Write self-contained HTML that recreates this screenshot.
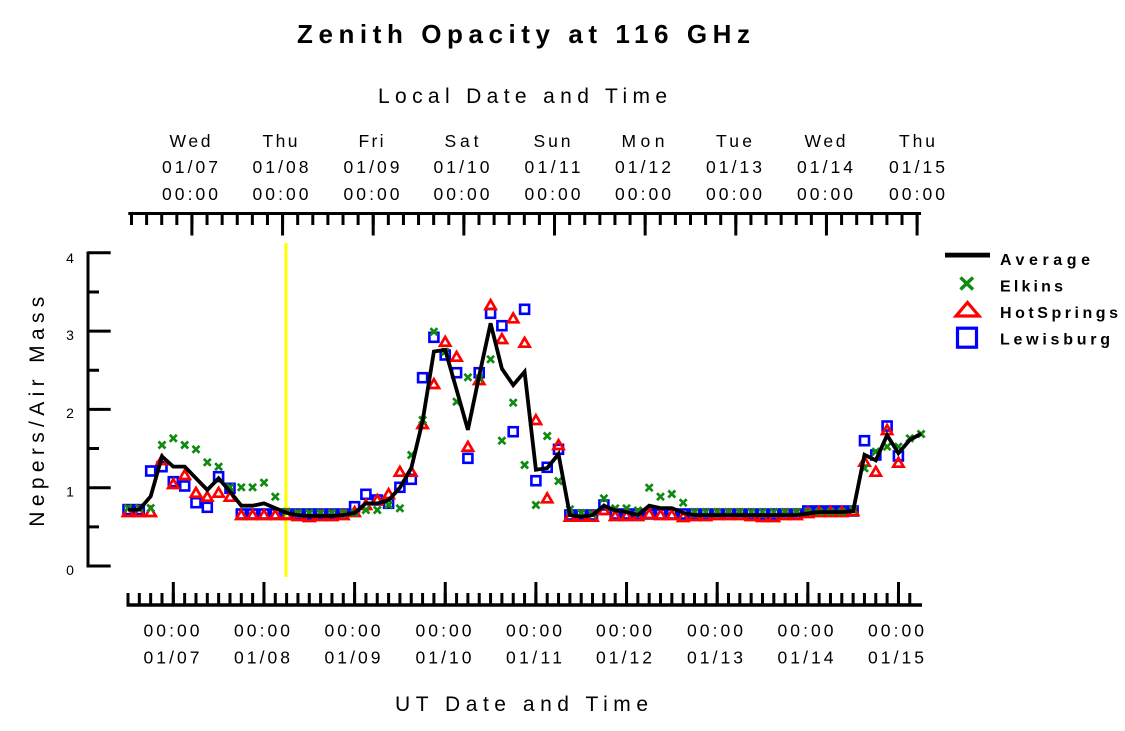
<!DOCTYPE html>
<html>
<head>
<meta charset="utf-8">
<style>
html,body{margin:0;padding:0;background:#fff;}
svg{display:block;}
text{font-family:"Liberation Sans",Arial,sans-serif;fill:#000;}
</style>
</head>
<body>
<svg xmlns="http://www.w3.org/2000/svg" width="1125" height="731" viewBox="0 0 1125 731">
<defs>
<marker id="mx" markerUnits="userSpaceOnUse" markerWidth="1" markerHeight="1" refX="0" refY="0" style="overflow:visible">
<path d="M-3.5,-3.5 L3.5,3.5 M-3.5,3.5 L3.5,-3.5" stroke="#108a10" stroke-width="2.7" fill="none"/>
</marker>
<marker id="mt" markerUnits="userSpaceOnUse" markerWidth="1" markerHeight="1" refX="0" refY="0" style="overflow:visible">
<path d="M0,-4.8 L5.1,4.0 L-5.1,4.0 Z" stroke="#ff0000" stroke-width="2.7" fill="none"/>
</marker>
<marker id="ms" markerUnits="userSpaceOnUse" markerWidth="1" markerHeight="1" refX="0" refY="0" style="overflow:visible">
<rect x="-4.5" y="-4.5" width="9" height="9" stroke="#0000ff" stroke-width="2.6" fill="none"/>
</marker>
</defs>
<rect width="1125" height="731" fill="#fff"/>

<!-- Title -->
<text x="297" y="43" font-size="26" font-weight="bold" textLength="453" lengthAdjust="spacing">Zenith Opacity at 116 GHz</text>

<!-- Top axis title -->
<text x="378" y="103" font-size="21" textLength="289" lengthAdjust="spacing">Local Date and Time</text>

<!-- Top labels -->
<g font-size="17.5" text-anchor="middle">
<text x="190" y="147" textLength="41" lengthAdjust="spacing">Wed</text>
<text x="280" y="147" textLength="35" lengthAdjust="spacing">Thu</text>
<text x="371" y="147" textLength="25" lengthAdjust="spacing">Fri</text>
<text x="461.5" y="147" textLength="34" lengthAdjust="spacing">Sat</text>
<text x="552" y="147" textLength="37" lengthAdjust="spacing">Sun</text>
<text x="643" y="147" textLength="43" lengthAdjust="spacing">Mon</text>
<text x="734" y="147" textLength="36" lengthAdjust="spacing">Tue</text>
<text x="825" y="147" textLength="41" lengthAdjust="spacing">Wed</text>
<text x="917" y="147" textLength="36" lengthAdjust="spacing">Thu</text>

<text x="190" y="173" textLength="56" lengthAdjust="spacing">01/07</text>
<text x="280.5" y="173" textLength="56" lengthAdjust="spacing">01/08</text>
<text x="371.5" y="173" textLength="56" lengthAdjust="spacing">01/09</text>
<text x="461.5" y="173" textLength="56" lengthAdjust="spacing">01/10</text>
<text x="552.5" y="173" textLength="56" lengthAdjust="spacing">01/11</text>
<text x="643" y="173" textLength="56" lengthAdjust="spacing">01/12</text>
<text x="734" y="173" textLength="56" lengthAdjust="spacing">01/13</text>
<text x="825" y="173" textLength="56" lengthAdjust="spacing">01/14</text>
<text x="917" y="173" textLength="56" lengthAdjust="spacing">01/15</text>

<text x="190" y="200" textLength="56" lengthAdjust="spacing">00:00</text>
<text x="280.5" y="200" textLength="56" lengthAdjust="spacing">00:00</text>
<text x="371.5" y="200" textLength="56" lengthAdjust="spacing">00:00</text>
<text x="461.5" y="200" textLength="56" lengthAdjust="spacing">00:00</text>
<text x="552.5" y="200" textLength="56" lengthAdjust="spacing">00:00</text>
<text x="643" y="200" textLength="56" lengthAdjust="spacing">00:00</text>
<text x="734" y="200" textLength="56" lengthAdjust="spacing">00:00</text>
<text x="825" y="200" textLength="56" lengthAdjust="spacing">00:00</text>
<text x="917" y="200" textLength="56" lengthAdjust="spacing">00:00</text>
</g>

<!-- Top axis -->
<line x1="128.3" y1="213.5" x2="921" y2="213.5" stroke="#000" stroke-width="3"/>
<line x1="130" y1="219.25" x2="919" y2="219.25" stroke="#000" stroke-width="11.5" stroke-dasharray="3 12.108"/>
<line x1="190.4" y1="224.5" x2="919" y2="224.5" stroke="#000" stroke-width="22" stroke-dasharray="3 87.65"/>

<!-- Y axis -->
<line x1="88" y1="251.5" x2="88" y2="567.5" stroke="#000" stroke-width="3"/>
<path d="M88,566 H110.7 M88,487.7 H110.7 M88,409.4 H110.7 M88,331.1 H110.7 M88,252.8 H110.7" stroke="#000" stroke-width="3"/>
<path d="M88,526.85 H99 M88,448.55 H99 M88,370.25 H99 M88,291.95 H99" stroke="#000" stroke-width="3"/>
<g font-size="14" text-anchor="middle">
<text x="70" y="575">0</text>
<text x="70" y="496.7">1</text>
<text x="70" y="418">2</text>
<text x="70" y="340">3</text>
<text x="70" y="263">4</text>
</g>
<text transform="translate(44,411.7) rotate(-90)" font-size="21" text-anchor="middle" textLength="230" lengthAdjust="spacing">Nepers/Air Mass</text>

<!-- Bottom axis -->
<line x1="126.5" y1="605" x2="922" y2="605" stroke="#000" stroke-width="3.4"/>
<line x1="126.5" y1="599" x2="912" y2="599" stroke="#000" stroke-width="12" stroke-dasharray="3 8.33"/>
<line x1="171.8" y1="593.5" x2="900" y2="593.5" stroke="#000" stroke-width="23" stroke-dasharray="3 87.65"/>
<g font-size="17.5" text-anchor="middle">
<text x="171.5" y="636.7" textLength="56" lengthAdjust="spacing">00:00</text>
<text x="262" y="636.7" textLength="56" lengthAdjust="spacing">00:00</text>
<text x="352.5" y="636.7" textLength="56" lengthAdjust="spacing">00:00</text>
<text x="443.5" y="636.7" textLength="56" lengthAdjust="spacing">00:00</text>
<text x="534" y="636.7" textLength="56" lengthAdjust="spacing">00:00</text>
<text x="624" y="636.7" textLength="56" lengthAdjust="spacing">00:00</text>
<text x="715" y="636.7" textLength="56" lengthAdjust="spacing">00:00</text>
<text x="805.5" y="636.7" textLength="56" lengthAdjust="spacing">00:00</text>
<text x="896" y="636.7" textLength="56" lengthAdjust="spacing">00:00</text>

<text x="171.5" y="663.3" textLength="56" lengthAdjust="spacing">01/07</text>
<text x="262" y="663.3" textLength="56" lengthAdjust="spacing">01/08</text>
<text x="352.5" y="663.3" textLength="56" lengthAdjust="spacing">01/09</text>
<text x="443.5" y="663.3" textLength="56" lengthAdjust="spacing">01/10</text>
<text x="534" y="663.3" textLength="56" lengthAdjust="spacing">01/11</text>
<text x="624" y="663.3" textLength="56" lengthAdjust="spacing">01/12</text>
<text x="715" y="663.3" textLength="56" lengthAdjust="spacing">01/13</text>
<text x="805.5" y="663.3" textLength="56" lengthAdjust="spacing">01/14</text>
<text x="896" y="663.3" textLength="56" lengthAdjust="spacing">01/15</text>
</g>
<text x="395" y="711" font-size="21" textLength="253" lengthAdjust="spacing">UT Date and Time</text>

<!-- Yellow marker line -->
<line x1="286" y1="243" x2="286" y2="577" stroke="#ffff00" stroke-width="3"/>

<!-- Lewisburg -->
<polyline fill="none" stroke="none" marker-start="url(#ms)" marker-mid="url(#ms)" marker-end="url(#ms)" points="128.0,509.6 139.3,509.6 150.7,471 162.0,466.7 173.3,481.7 184.7,486 196.0,502.7 207.3,507.3 218.6,476.7 230.0,488.3 241.3,514 252.6,514 264.0,514 275.3,514 286.6,514 298.0,514 309.3,514 320.6,514 331.9,514 343.3,514 354.6,506.7 365.9,494.3 377.3,500 388.6,503.3 399.9,487.3 411.3,479.3 422.6,377.7 433.9,337.3 445.2,355 456.6,372.7 467.9,458.3 479.2,372.7 490.6,313.3 501.9,325.7 513.2,431.7 524.6,309.3 535.9,480.7 547.2,467.3 558.5,449.3 569.9,515 581.2,515 592.5,515 603.9,505 615.2,514 626.5,514 637.9,514 649.2,514 660.5,514 671.8,514 683.2,514 694.5,514 705.8,514 717.2,514 728.5,514 739.8,514 751.2,514 762.5,514 773.8,514 785.1,514 796.5,514 807.8,511 819.1,511 830.5,511 841.8,511 853.1,511 864.5,440.7 875.8,455 887.1,426 898.4,456"/>

<!-- HotSprings -->
<polyline fill="none" stroke="none" marker-start="url(#mt)" marker-mid="url(#mt)" marker-end="url(#mt)" points="128.0,512 139.3,512 150.7,512 162.0,460 173.3,484 184.7,475 196.0,492.7 207.3,496.7 218.6,492.7 230.0,496.7 241.3,515 252.6,515 264.0,515 275.3,515 286.6,515 298.0,516 309.3,517 320.6,516 331.9,516 343.3,515 354.6,512 365.9,505 377.3,500 388.6,494 399.9,471.7 411.3,471.7 422.6,424 433.9,384 445.2,341.7 456.6,356.7 467.9,446.7 479.2,380 490.6,305 501.9,339 513.2,318.3 524.6,342.7 535.9,420 547.2,498.3 558.5,445 569.9,516.7 581.2,516.7 592.5,516.7 603.9,510 615.2,516 626.5,516 637.9,516 649.2,514 660.5,515 671.8,515 683.2,517 694.5,516 705.8,516 717.2,515 728.5,515 739.8,515 751.2,516 762.5,517 773.8,517 785.1,515 796.5,515 807.8,513 819.1,512 830.5,512 841.8,512 853.1,511 864.5,461.7 875.8,471.7 887.1,430 898.4,462.7"/>

<!-- Elkins -->
<polyline fill="none" stroke="none" marker-start="url(#mx)" marker-mid="url(#mx)" marker-end="url(#mx)" points="128.0,508.1 139.3,508.1 150.7,508.1 162.0,445 173.3,438.3 184.7,445 196.0,449.3 207.3,462.3 218.6,466.7 230.0,487.3 241.3,487.3 252.6,487.3 264.0,482.7 275.3,496.7 286.6,511.7 298.0,513 309.3,513 320.6,513 331.9,513 343.3,513 354.6,513 365.9,510 377.3,510 388.6,505 399.9,508.3 411.3,455 422.6,420 433.9,331.7 445.2,351.7 456.6,401.7 467.9,377.3 479.2,378.3 490.6,359.3 501.9,440.7 513.2,402.7 524.6,465 535.9,505 547.2,436 558.5,481 569.9,509.3 581.2,513 592.5,514 603.9,498.3 615.2,508.3 626.5,508.3 637.9,510.5 649.2,487.7 660.5,496.7 671.8,494 683.2,502.7 694.5,512 705.8,512 717.2,512 728.5,512 739.8,512 751.2,512 762.5,512 773.8,512 785.1,512 796.5,512 807.8,512 819.1,512 830.5,512 841.8,512 853.1,509.6 864.5,468.3 875.8,451.7 887.1,446.7 898.4,446.7 909.8,438.3 921.1,434"/>

<!-- Average -->
<polyline fill="none" stroke="#000" stroke-width="3.8" stroke-linejoin="miter" points="128.0,509.6 139.3,509.6 150.7,496.3 162.0,456.4 173.3,466.6 184.7,466.6 196.0,478.3 207.3,490.0 218.6,478.3 230.0,491.6 241.3,505.7 252.6,505.7 264.0,503.4 275.3,508.1 286.6,512.8 298.0,515.1 309.3,515.9 320.6,515.9 331.9,515.9 343.3,515.1 354.6,512.8 365.9,503.4 377.3,503.4 388.6,500.2 399.9,487.7 411.3,468.1 422.6,421.1 433.9,351.5 445.2,349.9 456.6,389.8 467.9,429.8 479.2,375.7 490.6,323.3 501.9,368.7 513.2,385.1 524.6,371.8 535.9,469.7 547.2,468.1 558.5,454.0 569.9,515.1 581.2,516.7 592.5,515.1 603.9,505.7 615.2,510.4 626.5,512.0 637.9,515.1 649.2,505.7 660.5,508.1 671.8,508.1 683.2,512.8 694.5,515.1 705.8,515.1 717.2,515.1 728.5,515.1 739.8,515.1 751.2,515.1 762.5,515.1 773.8,515.1 785.1,515.1 796.5,515.1 807.8,513.5 819.1,512 830.5,512 841.8,512 853.1,511.2 864.5,454.8 875.8,460.3 887.1,435.2 898.4,453.2 909.8,439.9 921.1,433.7"/>

<!-- Legend -->
<rect x="945" y="252.7" width="45" height="4.8" fill="#000"/>
<path d="M960.5,277.5 L973,289.5 M960.5,289.5 L973,277.5" stroke="#108a10" stroke-width="3.4" fill="none"/>
<path d="M967.5,302.5 L979,316 L956,316 Z" stroke="#ff0000" stroke-width="3.2" fill="none"/>
<rect x="957.5" y="328.2" width="19" height="19" stroke="#0000ff" stroke-width="3.2" fill="none"/>
<g font-size="16" font-weight="bold">
<text x="1000" y="265" textLength="90" lengthAdjust="spacing">Average</text>
<text x="1000" y="291.5" textLength="63" lengthAdjust="spacing">Elkins</text>
<text x="1000" y="318" textLength="118" lengthAdjust="spacing">HotSprings</text>
<text x="1000" y="344.5" textLength="110" lengthAdjust="spacing">Lewisburg</text>
</g>
</svg>
</body>
</html>
